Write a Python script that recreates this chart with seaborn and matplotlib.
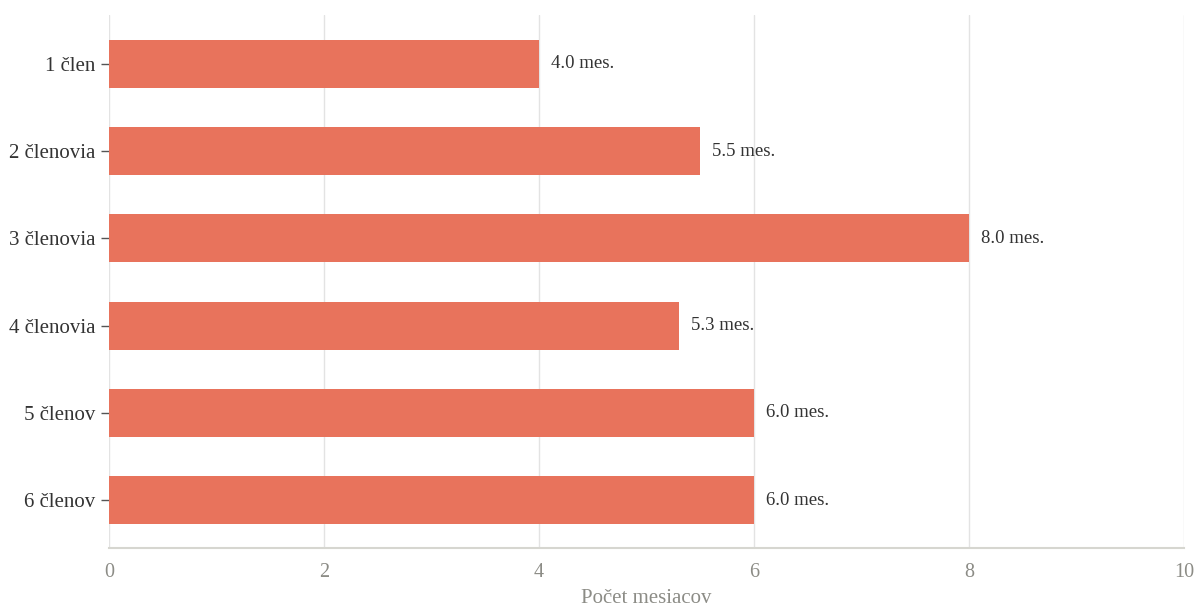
import seaborn as sns
import matplotlib.pyplot as plt
import pandas as pd

categories = ['1 člen', '2 členovia', '3 členovia', '4 členovia', '5 členov', '6 členov']
months = [4.0, 5.5, 8.0, 5.3, 6.0, 6.0]
xticks = [0, 2, 4, 6, 8, 10]

df = pd.DataFrame({'kategoria': categories, 'mesiace': months})

sns.set_theme(style='white')
plt.rcParams['font.family'] = ['Liberation Serif', 'DejaVu Serif']

fig = plt.figure(figsize=(11.96, 6.06), dpi=100)
ax = fig.add_axes([109 / 1196, 58 / 606, (1184 - 109) / 1196, (548 - 15) / 606])

sns.barplot(data=df, y='kategoria', x='mesiace', color='#E8735C', saturation=1,
            width=0.55, orient='h', ax=ax, zorder=3, linewidth=0)

ax.set_xlim(0, 10)
ax.set_ylim(5.55, -0.56)
ax.set_xticks(xticks)
ax.set_xticklabels([str(t) for t in xticks])
ax.grid(axis='x', color='#e3e3e3', linewidth=1, zorder=0)
ax.set_axisbelow(True)

for s in ['top', 'right', 'left']:
    ax.spines[s].set_visible(False)
ax.spines['bottom'].set_color('#d6d6d0')
ax.spines['bottom'].set_linewidth(1.5)

ax.tick_params(axis='x', colors='#999990', labelsize=14.5, length=5, width=1.5,
               labelcolor='#8c8c86', pad=6)
ax.tick_params(axis='y', labelsize=15, length=6, width=1, color='#555555',
               labelcolor='#333333', pad=4, left=True)

ax.set_xlabel('Počet mesiacov', fontsize=15, color='#8c8c86', labelpad=5)
ax.set_ylabel('')

for container in ax.containers:
    ax.bar_label(container, labels=[f'{v:.1f} mes.' for v in months],
                 padding=8.5, fontsize=13.5, color='#333333')

fig.savefig('out.png', dpi=100)
